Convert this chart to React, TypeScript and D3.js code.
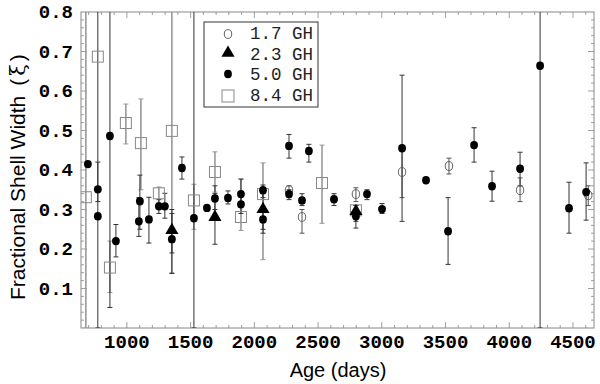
import React from "react";
import * as d3 from "d3";

// 1.7 GHz (open circles)
const ages17 = [2272, 2374, 2797, 3159, 3527, 4085, 4620];
const vals17 = [0.349, 0.281, 0.339, 0.395, 0.41, 0.349, 0.336];
const lo17 = [0.33, 0.24, 0.32, 0.33, 0.39, 0.32, 0.31];
const hi17 = [0.36, 0.3, 0.355, 0.46, 0.43, 0.38, 0.36];

// 2.3 GHz (filled triangles)
const ages23 = [1353, 1691, 2068, 2797];
const vals23 = [0.245, 0.278, 0.298, 0.293];
const lo23 = [0.19, 0.212, 0.25, 0.27];
const hi23 = [0.3, 0.34, 0.34, 0.31];

// 5.0 GHz (filled circles)
const ages50 = [694, 772, 772, 867, 914, 1094, 1102, 1173, 1251, 1298, 1353, 1432, 1526, 1628, 1691, 1793, 1895, 1895, 2068, 2068, 2272, 2272, 2374, 2428, 2625, 2797, 2884, 3002, 3159, 3347, 3520, 3724, 3865, 4085, 4242, 4469, 4603];
const vals50 = [0.415, 0.351, 0.283, 0.486, 0.22, 0.27, 0.321, 0.275, 0.308, 0.308, 0.225, 0.405, 0.278, 0.304, 0.328, 0.329, 0.339, 0.313, 0.349, 0.275, 0.461, 0.339, 0.323, 0.448, 0.326, 0.283, 0.339, 0.301, 0.455, 0.374, 0.245, 0.463, 0.359, 0.403, 0.664, 0.303, 0.344];
const lo50 = [0.415, 0.32, 0, 0.052, 0.18, 0.232, 0.25, 0.215, 0.29, 0.278, 0.138, 0.377, 0, 0.304, 0.3, 0.314, 0.32, 0.29, 0.33, 0.24, 0.43, 0.325, 0.31, 0.42, 0.31, 0.253, 0.325, 0.29, 0.27, 0.374, 0.161, 0.42, 0.321, 0.36, 0, 0.24, 0.273];
const hi50 = [0.415, 0.42, 0.85, 0.85, 0.262, 0.33, 0.387, 0.331, 0.325, 0.341, 0.29, 0.433, 0.85, 0.304, 0.36, 0.347, 0.377, 0.34, 0.362, 0.3, 0.49, 0.35, 0.34, 0.465, 0.34, 0.31, 0.35, 0.315, 0.64, 0.374, 0.33, 0.507, 0.397, 0.445, 0.85, 0.369, 0.418];

// 8.4 GHz (open squares)
const ages84 = [678, 772, 867, 992, 1110, 1251, 1353, 1526, 1691, 1895, 2068, 2531, 2797];
const vals84 = [0.331, 0.687, 0.153, 0.519, 0.468, 0.341, 0.499, 0.323, 0.395, 0.281, 0.339, 0.367, 0.298];
const lo84 = [0, 0.687, 0.09, 0.466, 0.35, 0.318, 0.14, 0.25, 0.344, 0.247, 0.173, 0.265, 0.298];
const hi84 = [0.85, 0.687, 0.22, 0.567, 0.58, 0.357, 0.85, 0.364, 0.446, 0.377, 0.418, 0.463, 0.298];

const xTicks = [1000, 1500, 2000, 2500, 3000, 3500, 4000, 4500];
const yTicks = [0.1, 0.2, 0.3, 0.4, 0.5, 0.6, 0.7, 0.8];
const legendLabels = ["1.7 GH", "2.3 GH", "5.0 GH", "8.4 GH"];

const W = 600;
const H = 384;
const m = { left: 81, right: 594, top: 12, bottom: 328 };

const x = d3.scaleLinear().domain([640, 4665]).range([m.left, m.right]);
const y = d3.scaleLinear().domain([0, 0.8]).range([m.bottom, m.top]);

const pts = (a: number[], v: number[], lo: number[], hi: number[]) =>
  a.map((age, i) => ({ age, v: v[i], lo: lo[i], hi: hi[i] }));

const s17 = pts(ages17, vals17, lo17, hi17);
const s23 = pts(ages23, vals23, lo23, hi23);
const s50 = pts(ages50, vals50, lo50, hi50);
const s84 = pts(ages84, vals84, lo84, hi84);

const tri = d3.symbol().type(d3.symbolTriangle).size(75)();
const mono = "'Liberation Mono', 'DejaVu Sans Mono', monospace";
const sans = "'Liberation Sans', Arial, sans-serif";

function ErrBars({ data, color, width }: { data: any[]; color: string; width: number }) {
  return (
    <g stroke={color} strokeWidth={width}>
      {data
        .filter((d) => d.hi > d.lo)
        .map((d, i) => {
          const cx = x(d.age);
          return (
            <g key={i}>
              <line x1={cx} x2={cx} y1={y(d.lo)} y2={y(d.hi)} />
              <line x1={cx - 2.5} x2={cx + 2.5} y1={y(d.lo)} y2={y(d.lo)} strokeWidth={1} />
              <line x1={cx - 2.5} x2={cx + 2.5} y1={y(d.hi)} y2={y(d.hi)} strokeWidth={1} />
            </g>
          );
        })}
    </g>
  );
}

export default function App() {
  const minorX = d3.range(700, 4700, 100);
  const minorY = d3.range(0.02, 0.8, 0.02);
  const tickCol = "#888";

  return (
    <svg width={W} height={H} style={{ position: "absolute", left: 0, top: 0, background: "#fff" }}>
      <defs>
        <clipPath id="plot">
          <rect x={m.left} y={m.top} width={m.right - m.left} height={m.bottom - m.top} />
        </clipPath>
      </defs>

      <rect x={m.left} y={m.top} width={m.right - m.left} height={m.bottom - m.top} fill="none" stroke="#888" />

      <g stroke={tickCol} strokeWidth={0.8}>
        {minorX.map((t) => {
          const len = t % 500 === 0 ? 6 : 3;
          return (
            <g key={t}>
              <line x1={x(t)} x2={x(t)} y1={m.bottom} y2={m.bottom - len} />
              <line x1={x(t)} x2={x(t)} y1={m.top} y2={m.top + len} />
            </g>
          );
        })}
        {minorY.map((t, i) => {
          const len = (i + 1) % 5 === 0 ? 6 : 3;
          return (
            <g key={i}>
              <line x1={m.left} x2={m.left + len} y1={y(t)} y2={y(t)} />
              <line x1={m.right} x2={m.right - len} y1={y(t)} y2={y(t)} />
            </g>
          );
        })}
      </g>

      <g fontFamily={mono} fontWeight="bold" fontSize={19} fill="#000">
        {xTicks.map((t) => (
          <text key={t} x={x(t)} y={348} textAnchor="middle">
            {t}
          </text>
        ))}
        {yTicks.map((t) => (
          <text key={t} x={73} y={y(t) + 6} textAnchor="end">
            {t.toFixed(1)}
          </text>
        ))}
      </g>

      <text x={338} y={377} textAnchor="middle" fontFamily={sans} fontSize={20}>
        Age (days)
      </text>
      <text transform="translate(25,300) rotate(-90)" fontFamily={sans} fontSize={21}>
        Fractional Shell Width
        <tspan dx={10}>(</tspan>
        <tspan dx={3} fontFamily="'DejaVu Serif', serif">ξ</tspan>
        <tspan dx={3}>)</tspan>
      </text>

      <g clipPath="url(#plot)">
        <ErrBars data={s84} color="#999" width={1.6} />
        <ErrBars data={s17} color="#555" width={1} />
        <ErrBars data={s23} color="#333" width={1} />
        <ErrBars data={s50} color="#333" width={1} />

        {s84.map((d, i) => (
          <rect key={i} x={x(d.age) - 5.5} y={y(d.v) - 5.5} width={11} height={11} fill="none" stroke="#888" strokeWidth={1} />
        ))}
        {s17.map((d, i) => (
          <ellipse key={i} cx={x(d.age)} cy={y(d.v)} rx={3.7} ry={4.4} fill="none" stroke="#555" strokeWidth={0.9} />
        ))}
        {s50.map((d, i) => (
          <ellipse key={i} cx={x(d.age)} cy={y(d.v)} rx={3.9} ry={4.2} fill="#000" />
        ))}
        {s23.map((d, i) => (
          <path key={i} d={tri} transform={`translate(${x(d.age)},${y(d.v) - 1})`} fill="#000" />
        ))}
      </g>

      <g>
        <rect x={204} y={22} width={114} height={85} fill="#fff" stroke="#333" strokeWidth={1} />
        <ellipse cx={228} cy={34} rx={3.7} ry={4.4} fill="none" stroke="#555" strokeWidth={0.9} />
        <path d={tri} transform="translate(228,53)" fill="#000" />
        <ellipse cx={228} cy={74} rx={3.9} ry={4.2} fill="#000" />
        <rect x={222} y={90} width={12} height={12} fill="none" stroke="#888" />
        {legendLabels.map((l, i) => (
          <text key={l} x={250} y={39 + i * 20.5} fontFamily={mono} fontSize={17.5} fill="#222">
            {l}
          </text>
        ))}
      </g>
    </svg>
  );
}
